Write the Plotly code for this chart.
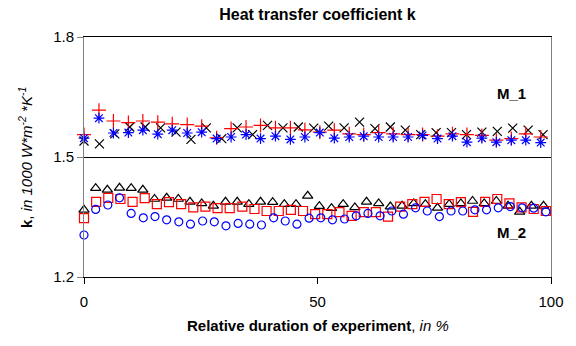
import plotly.graph_objects as go

# ---- data ----
x_m1_rb = [0, 3.2, 6.3, 9.5, 12.6, 15.8, 18.9, 22.1, 25.2, 28.4, 31.5, 34.7, 37.8, 41.0, 44.2, 47.3,
           50.5, 53.6, 56.8, 59.9, 63.1, 66.2, 69.4, 72.5, 75.7, 78.9, 82.0, 85.2, 88.3, 91.5, 94.6, 97.8]
m1_red = [1.556, 1.617, 1.590, 1.586, 1.590, 1.587, 1.583, 1.581, 1.577, 1.548, 1.571, 1.575, 1.579, 1.573,
          1.573, 1.568, 1.562, 1.567, 1.558, 1.556, 1.561, 1.558, 1.556, 1.556, 1.552, 1.558, 1.556, 1.554,
          1.542, 1.546, 1.558, 1.550]
m1_blue = [1.547, 1.597, 1.560, 1.561, 1.567, 1.557, 1.567, 1.560, 1.562, 1.546, 1.550, 1.556, 1.546, 1.552,
           1.544, 1.550, 1.561, 1.547, 1.550, 1.552, 1.550, 1.550, 1.550, 1.554, 1.546, 1.552, 1.537, 1.547,
           1.537, 1.542, 1.542, 1.536]
x_m1_k = [0, 3.3, 6.6, 9.8, 13.1, 16.4, 19.7, 22.9, 26.2, 29.5, 32.8, 36.1, 39.3, 42.6, 45.9, 49.2,
          52.4, 55.7, 59.0, 62.3, 65.6, 68.8, 72.1, 75.4, 78.7, 81.9, 85.2, 88.5, 91.8, 95.1, 98.3]
m1_black = [1.540, 1.533, 1.558, 1.575, 1.575, 1.573, 1.562, 1.544, 1.573, 1.546, 1.573, 1.556, 1.579, 1.573,
            1.575, 1.572, 1.577, 1.573, 1.587, 1.571, 1.575, 1.567, 1.556, 1.561, 1.561, 1.556, 1.562, 1.564,
            1.572, 1.567, 1.556]

x_m2_tri = [0, 2.5, 5.0, 7.6, 10.1, 12.6, 15.1, 17.7, 20.2, 22.7, 25.2, 27.7, 30.3, 32.8, 35.3, 37.8, 40.4,
            42.9, 45.4, 47.9, 50.4, 53.0, 55.5, 58.0, 60.5, 63.1, 65.6, 68.1, 70.6, 73.1, 75.7, 78.2, 80.7,
            83.2, 85.7, 88.3, 90.8, 93.3, 95.8, 98.4]
m2_black = [1.368, 1.422, 1.418, 1.423, 1.422, 1.418, 1.395, 1.398, 1.395, 1.388, 1.384, 1.378, 1.388, 1.388,
            1.382, 1.388, 1.387, 1.382, 1.382, 1.403, 1.377, 1.372, 1.382, 1.374, 1.388, 1.384, 1.376, 1.378,
            1.384, 1.382, 1.373, 1.382, 1.384, 1.390, 1.384, 1.390, 1.378, 1.363, 1.378, 1.378]
x_m2_sq = [0, 2.6, 5.2, 7.8, 10.4, 13.0, 15.6, 18.2, 20.8, 23.4, 26.0, 28.6, 31.2, 33.9, 36.5, 39.1, 41.7,
           44.3, 46.9, 49.5, 52.1, 54.7, 57.3, 59.9, 62.5, 65.1, 67.7, 70.3, 72.9, 75.5, 78.1, 80.7, 83.3,
           85.9, 88.5, 91.1, 93.7, 96.3, 98.9]
m2_red = [1.347, 1.388, 1.398, 1.395, 1.388, 1.397, 1.382, 1.387, 1.382, 1.374, 1.376, 1.372, 1.372, 1.376,
          1.370, 1.365, 1.365, 1.368, 1.365, 1.357, 1.357, 1.362, 1.353, 1.362, 1.362, 1.351, 1.376, 1.382,
          1.388, 1.395, 1.382, 1.387, 1.363, 1.388, 1.395, 1.384, 1.374, 1.370, 1.365]
x_m2_ci = [0, 2.5, 5.1, 7.6, 10.1, 12.7, 15.2, 17.7, 20.3, 22.8, 25.4, 27.9, 30.4, 33.0, 35.5, 38.0, 40.6,
           43.1, 45.6, 48.2, 50.7, 53.2, 55.8, 58.3, 60.8, 63.4, 65.9, 68.4, 71.0, 73.5, 76.1, 78.6, 81.1,
           83.7, 86.2, 88.7, 91.3, 93.8, 96.3, 98.9]
m2_blue = [1.305, 1.369, 1.380, 1.398, 1.359, 1.348, 1.351, 1.343, 1.338, 1.332, 1.340, 1.338, 1.328, 1.334,
           1.332, 1.330, 1.348, 1.340, 1.332, 1.347, 1.348, 1.343, 1.345, 1.353, 1.359, 1.353, 1.365, 1.357,
           1.373, 1.365, 1.351, 1.365, 1.365, 1.368, 1.368, 1.373, 1.376, 1.373, 1.372, 1.363]

x_ticks = [0, 50, 100]
y_ticks = [1.2, 1.5, 1.8]

FONT = "Liberation Sans, Arial, sans-serif"

fig = go.Figure()

def add(x, y, sym, color, size, width=1.2):
    fig.add_trace(go.Scatter(
        x=x, y=y, mode="markers", cliponaxis=False, showlegend=False,
        marker=dict(symbol=sym, size=size, color=color,
                    line=dict(color=color, width=width))))

add(x_m1_k, m1_black, "x-thin-open", "black", 9)
add(x_m1_rb, m1_red, "cross-thin-open", "red", 10)
add(x_m1_rb, m1_blue, "asterisk-open", "blue", 9)
add(x_m2_tri, m2_black, "triangle-up-open", "black", 9)
add(x_m2_sq, m2_red, "square-open", "red", 9)
add(x_m2_ci, m2_blue, "circle-open", "blue", 8)

fig.update_layout(
    width=576, height=346,
    margin=dict(l=84, r=25, t=37, b=69),
    paper_bgcolor="white", plot_bgcolor="white",
    font=dict(family=FONT, size=15, color="black"),
    title=dict(text="<b>Heat transfer coefficient k</b>", x=(84 + 551) / 2 / 576, xanchor="center",
               y=1 - 14 / 346, yanchor="middle", yref="container",
               font=dict(family=FONT, size=16, color="black")),
    xaxis=dict(range=[0, 100], tickvals=x_ticks, ticks="outside", ticklen=6, tickcolor="black",
               showline=True, linecolor="black", linewidth=1, mirror=True, showgrid=False,
               zeroline=False, ticklabelstandoff=5, tickfont=dict(size=15)),
    yaxis=dict(range=[1.2, 1.8], tickvals=y_ticks, tickformat=".1f", ticks="outside", ticklen=6,
               tickcolor="#808080", showline=True, linecolor="#808080", linewidth=1, mirror=True,
               showgrid=True, gridcolor="black", gridwidth=1, zeroline=False, tickfont=dict(size=15)),
    annotations=[
        dict(text="<b>Relative duration of experiment</b>, <i>in %</i>", xref="paper", yref="paper",
             x=0.5, y=-0.2, xanchor="center", yanchor="middle", showarrow=False,
             font=dict(size=15)),
        dict(text="<b>k</b>, <i>in 1000 W*m<sup>-2</sup> *K<sup>-1</sup></i>", xref="paper", yref="paper",
             x=(25 - 84) / 467, y=0.5, xanchor="center", yanchor="middle", textangle=-90,
             showarrow=False, font=dict(size=15)),
        dict(text="<b>M_1</b>", x=91.6, y=1.66, xref="x", yref="y", showarrow=False,
             font=dict(size=15)),
        dict(text="<b>M_2</b>", x=91.6, y=1.3125, xref="x", yref="y", showarrow=False,
             font=dict(size=15)),
    ],
)

fig.write_html("out.html", config={"displayModeBar": False},
               post_script="document.body.style.margin='0';document.body.style.overflow='hidden';")
